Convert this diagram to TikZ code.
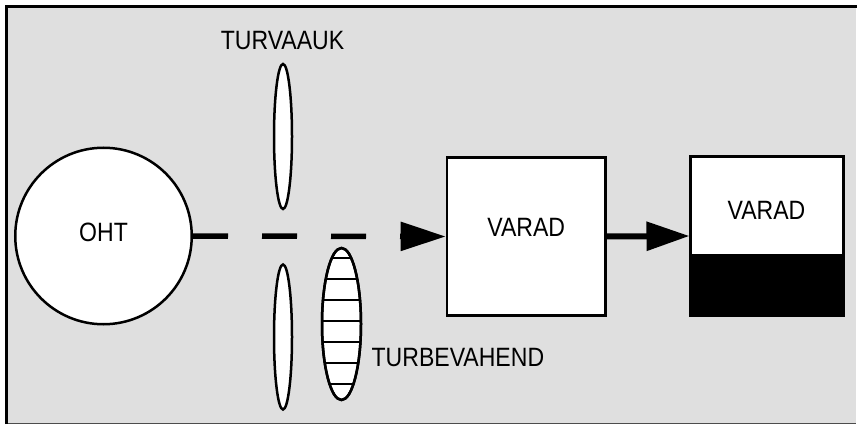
\documentclass[tikz,border=0pt]{standalone}
\usepackage{fontspec}
\newfontfamily\labfont[FakeStretch=0.87]{Liberation Sans}
\usetikzlibrary{shapes.geometric,arrows.meta}
\definecolor{bg}{HTML}{DFDFDF}
\begin{document}
\begin{tikzpicture}[x=1pt,y=-1pt,
  every node/.style={font=\labfont\fontsize{26.5}{30}\selectfont, inner sep=0pt},
  figbox/.style={draw=black, fill=white, line width=2.5pt},
  lens/.style={figbox, ellipse, minimum width=18pt, minimum height=145pt},
  txt/.style={text height=18.7pt, text depth=0pt},
  flow/.style={line width=5.5pt}]
\useasboundingbox (0,0) rectangle (857,425);
% background panel
\fill[bg] (6,6) rectangle (856,424);
\draw[black!70, line width=1.5pt] (6,423.5) -- (856,423.5);
\draw[black, line width=2.5pt] (6.5,424) -- (6.5,6.5) -- (857,6.5);
% shapes
\node[figbox, circle, minimum size=176.5pt, text height=18.7pt, text depth=8.6pt] (oht) at (103.5,236) {OHT};
\node[lens] (upper) at (283,136.5) {};
\node[lens] (lower) at (283,337) {};
\node[lens, minimum width=39pt, minimum height=152pt] (hatch) at (341.5,324) {};
\begin{scope}
  \clip (341.5,324) ellipse (19.5pt and 76pt);
  \foreach \yy in {258.3,279.3,300.3,321.3,342.3,363.3,384.3}
    \draw[line width=2pt] (320,\yy) -- (363,\yy);
\end{scope}
\node[figbox, ellipse, minimum width=39pt, minimum height=152pt, fill=none] (hatchrim) at (341.5,324) {};
\node[figbox, rectangle, minimum width=158.5pt, minimum height=158.4pt,
      text height=18.7pt, text depth=19pt] (varad1) at (526.2,236.5) {VARAD};
\node[figbox, rectangle, line width=2pt, minimum width=152pt, minimum height=158pt,
      text height=18.7pt, text depth=52pt] (varad2) at (766.5,236) {VARAD};
\fill[black] (varad2.south west) rectangle ([yshift=-18pt]varad2.east);
\draw[line width=2pt] (varad2.south west) rectangle (varad2.north east);
% labels
\node[txt] (turvaauk) at (282.5,40.3) {TURVAAUK};
\node[txt] (turbe) at (457.9,357.3) {TURBEVAHEND};
% connectors
\draw[flow, dash pattern=on 35pt off 34pt, -{Triangle[length=45pt,width=28pt]}] (oht.east) -- (varad1.west);
\draw[flow, line width=6pt, -{Triangle[length=43pt,width=28pt]}] (varad1.east) -- (varad2.west);
\end{tikzpicture}
\end{document}
